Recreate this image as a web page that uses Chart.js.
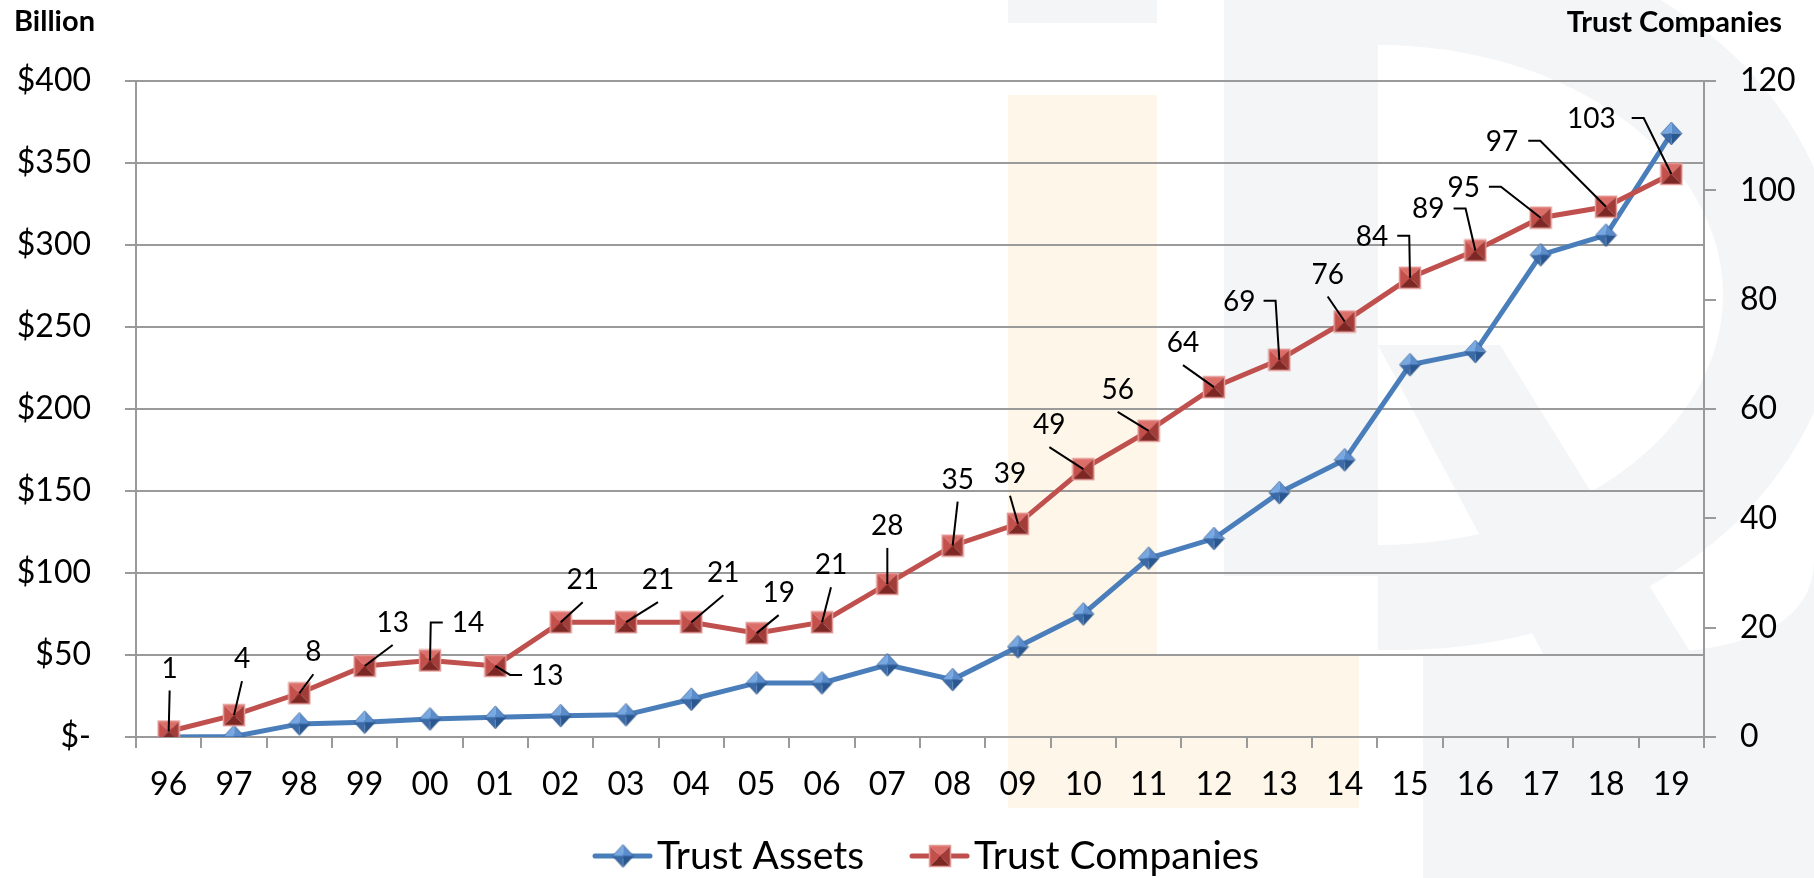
<!DOCTYPE html>
<html><head><meta charset="utf-8">
<script src="https://cdn.jsdelivr.net/npm/chart.js@4.4.1/dist/chart.umd.min.js"></script>
<style>html,body{margin:0;padding:0;background:#fff;overflow:hidden}canvas{display:block}</style>
</head><body>
<canvas id="c" width="1814" height="878"></canvas>
<script>
// ---------- data ----------
const categories = ['96','97','98','99','00','01','02','03','04','05','06','07','08','09','10','11','12','13','14','15','16','17','18','19'];
const trustAssets = [0,0.3,8,9,11,12,13,13.5,23,33,33,44,35,55,75,109,121,149,169,227,235,294,306,368];
const trustCompanies = [1,4,8,13,14,13,21,21,21,19,21,28,35,39,49,56,64,69,76,84,89,95,97,103];
const leftTickLabels = ['$-','$50','$100','$150','$200','$250','$300','$350','$400'];
const rightTickLabels = ['0','20','40','60','80','100','120'];
const seriesNames = ['Trust Assets','Trust Companies'];
const axisTitles = ['Billion','Trust Companies'];
// data label placement (style only): [dx, dy, leader type, gap]
const labelPlacement = [
  [1,-63,'s'],[8,-56,'s'],[14,-41,'s'],[28,-43,'s'],[38,-37,'l',9],[52,10,'l',9],
  [22,-42,'s'],[32,-42,'s'],[32,-49,'s'],[22,-40,'s'],[9,-57,'s'],[0,-58,'s'],
  [5,-66,'s'],[-8,-50,'s'],[-34,-44,'s'],[-31,-41,'s'],[-31,-44,'s'],[-40,-58,'r',8],
  [-17,-47,'s'],[-38,-41,'r',9],[-47,-41,'r',9],[-77,-30,'r',9],[-104,-65,'r',10],[-80,-55,'r',16]
];

const BLUE = '#4a7ebb', RED = '#c0504d', GRID = '#9a9a9a';

function tri(g,a,b,c,col){g.beginPath();g.moveTo(a[0],a[1]);g.lineTo(b[0],b[1]);g.lineTo(c[0],c[1]);g.closePath();g.fillStyle=col;g.fill();}
function makeDiamond(w,h){
  const c=document.createElement('canvas');c.width=w+2;c.height=h+2;const g=c.getContext('2d');
  const cx=c.width/2,cy=c.height/2;const T=[cx,cy-h/2],R=[cx+w/2,cy],B=[cx,cy+h/2],L=[cx-w/2,cy],C=[cx,cy];
  tri(g,L,T,C,'#78a8e2');tri(g,T,R,C,'#5b8ccc');tri(g,R,B,C,'#2a5790');tri(g,B,L,C,'#3b6aa6');
  g.beginPath();g.moveTo(T[0],T[1]);g.lineTo(R[0],R[1]);g.lineTo(B[0],B[1]);g.lineTo(L[0],L[1]);g.closePath();
  g.strokeStyle='rgba(40,80,130,0.6)';g.lineWidth=1;g.stroke();
  return c;
}
function makeSquare(s){
  const c=document.createElement('canvas');c.width=s+2;c.height=s+2;const g=c.getContext('2d');
  const a=1,b=s+1,m=c.width/2;const TL=[a,a],TR=[b,a],BR=[b,b],BL=[a,b],C=[m,m];
  tri(g,TL,TR,C,'#dc6e69');tri(g,TL,BL,C,'#c4504c');tri(g,TR,BR,C,'#a23c39');tri(g,BL,BR,C,'#7c2724');
  g.strokeStyle='#e49a97';g.lineWidth=1.5;g.strokeRect(a+0.5,a+0.5,s-1,s-1);
  return c;
}
const diamondImg = makeDiamond(21,23);
const squareImg = makeSquare(22);

const background = {
  id:'background',
  beforeDraw(chart){
    const g=chart.ctx;g.save();
    g.fillStyle='#fff';g.fillRect(0,0,chart.width,chart.height);
    const grey='#f4f5f7';
    g.fillStyle=grey;
    g.fillRect(1008,0,149,23);
    g.fillRect(1224,0,154,576);
    // bowl ring
    g.beginPath();
    g.ellipse(1400,290,440,360,0,-Math.PI/2,Math.PI/2,false);
    g.lineTo(1378,650);g.lineTo(1378,-70);g.closePath();
    g.moveTo(1378,545);
    g.ellipse(1378,295,345,250,0,Math.PI/2,-Math.PI/2,true);
    g.closePath();
    g.fill('evenodd');
    // leg
    g.beginPath();g.moveTo(1378,345);g.lineTo(1500,345);g.lineTo(1720,700);g.lineTo(1600,760);g.closePath();g.fill();
    // bottom block
    g.beginPath();g.moveTo(1423,654);g.lineTo(1640,654);g.quadraticCurveTo(1814,650,1814,560);g.lineTo(1814,878);g.lineTo(1423,878);g.closePath();g.fill();
    // cream bar
    g.fillStyle='#fef6e9';
    g.fillRect(1008,95,149,713);
    g.fillRect(1157,654,202,154);
    g.restore();
  }
};

const decorations = {
  id:'decorations',
  afterDatasetsDraw(chart){
    const g=chart.ctx;g.save();
    const meta=chart.getDatasetMeta(1);
    g.font='28px Lato';g.fillStyle='#000';g.textAlign='center';g.textBaseline='middle';
    g.strokeStyle='#000';g.lineWidth=2;
    meta.data.forEach((pt,i)=>{
      const [dx,dy,t,gap]=labelPlacement[i];
      const lx=pt.x+dx, ly=pt.y+dy, txt=String(trustCompanies[i]);
      const w=g.measureText(txt).width;
      g.beginPath();
      if(t==='s'){g.moveTo(lx,ly+22);g.lineTo(pt.x,pt.y);}
      else if(t==='r'){const ax=lx+w/2+gap;g.moveTo(ax,ly-1);g.lineTo(ax+12,ly-1);g.lineTo(pt.x,pt.y);}
      else {const ax=lx-w/2-gap;g.moveTo(ax,ly-1);g.lineTo(ax-12,ly-1);g.lineTo(pt.x,pt.y);}
      g.stroke();
      g.fillText(txt,lx,ly);
    });
    g.restore();
  },
  afterDraw(chart){
    const g=chart.ctx;g.save();
    g.fillStyle='#000';g.textBaseline='middle';
    g.font='bold 29px Lato';
    g.textAlign='left';g.fillText(axisTitles[0],14,22);
    g.textAlign='right';g.fillText(axisTitles[1],1782,23);
    // legend
    g.font='39px Lato';g.textAlign='left';
    let x=595;const y=856;
    chart.data.datasets.forEach((ds,i)=>{
      g.beginPath();g.strokeStyle=ds.borderColor;g.lineWidth=5;g.lineCap='round';
      g.moveTo(x,y);g.lineTo(x+55,y);g.stroke();
      const img=ds.pointStyle;g.drawImage(img,x+28-img.width/2,y-img.height/2);
      g.fillStyle='#000';g.fillText(ds.label,x+62,y);
      x+=62+g.measureText(ds.label).width+48;
    });
    g.restore();
  }
};

Chart.defaults.font.family='Lato';
Chart.defaults.color='#000';

function build(){
new Chart(document.getElementById('c'),{
  type:'line',
  data:{labels:categories,datasets:[
    {label:seriesNames[0],data:trustAssets,yAxisID:'y',borderColor:BLUE,backgroundColor:BLUE,borderWidth:5,
     pointStyle:diamondImg,pointRadius:11,tension:0,order:1},
    {label:seriesNames[1],data:trustCompanies,yAxisID:'y1',borderColor:RED,backgroundColor:RED,borderWidth:5,
     pointStyle:squareImg,pointRadius:11,tension:0,order:0}
  ]},
  options:{
    responsive:false,animation:false,devicePixelRatio:1,
    layout:{padding:{top:81,left:0,right:0,bottom:0}},
    plugins:{legend:{display:false},tooltip:{enabled:false}},
    scales:{
      x:{offset:true,
        grid:{offset:true,drawOnChartArea:false,tickLength:11,color:GRID,lineWidth:2},
        border:{display:true,color:GRID,width:2},
        ticks:{font:{size:32},padding:17,maxRotation:0,autoSkip:false},
        afterFit(s){s.height=141;}},
      y:{position:'left',min:0,max:400,
        ticks:{stepSize:50,font:{size:32},padding:34,callback:(v,i)=>leftTickLabels[i]},
        grid:{color:GRID,lineWidth:2,tickLength:11},
        border:{display:true,color:GRID,width:2},
        afterFit(s){s.width=136;}},
      y1:{position:'right',min:0,max:120,
        ticks:{stepSize:20,font:{size:32},padding:24,callback:(v,i)=>rightTickLabels[i]},
        grid:{drawOnChartArea:false,color:GRID,lineWidth:2,tickLength:12},
        border:{display:true,color:GRID,width:2},
        afterFit(s){s.width=110;}}
    }
  },
  plugins:[background,decorations]
});
}
if(document.fonts&&document.fonts.load){Promise.all([document.fonts.load('30px Lato'),document.fonts.load('bold 25px Lato')]).then(build,build);}else build();
</script>
</body></html>
